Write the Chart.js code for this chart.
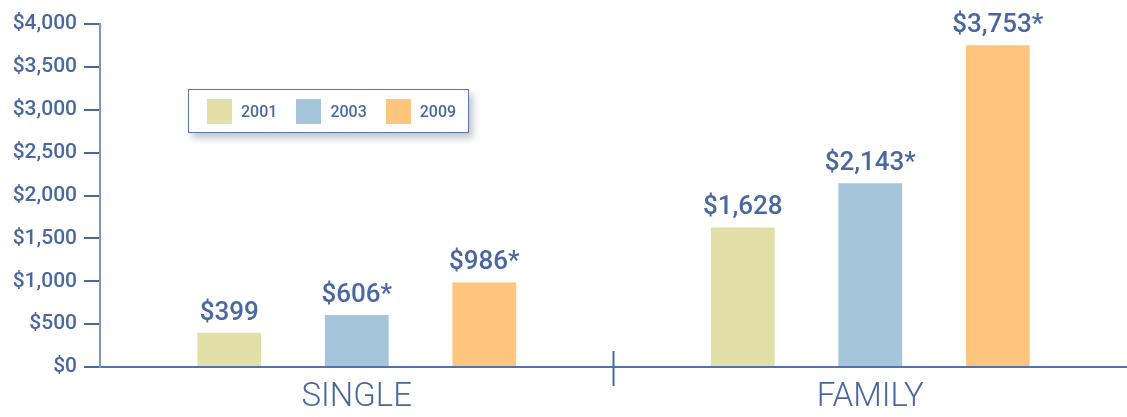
<!DOCTYPE html>
<html>
<head>
<meta charset="utf-8">
<script src="https://cdn.jsdelivr.net/npm/chart.js@4/dist/chart.umd.min.js"></script>
<style>
  html, body { margin: 0; padding: 0; background: #fff; overflow: hidden; }
  .wrap { position: relative; width: 1127px; height: 417px; }
  .legend {
    position: absolute; left: 188px; top: 89px; width: 281px; height: 44px;
    box-sizing: border-box; border: 1.5px solid #5a78aa; background: #fff;
    box-shadow: 4px 5px 7px rgba(80, 90, 110, 0.35);
    display: flex; align-items: center; padding-left: 18px;
    font-family: Roboto, sans-serif; font-weight: 500; font-size: 16px; color: #4a68a0;
  }
  .legend .item { display: flex; align-items: center; margin-right: 19px; }
  .legend .swatch { width: 25px; height: 25px; margin-right: 9px; }
</style>
</head>
<body>
<div class="wrap">
  <canvas id="chart" width="1127" height="417"></canvas>
  <div class="legend" id="legend"></div>
</div>
<script>
const categories = ['SINGLE', 'FAMILY'];
const years = ['2001', '2003', '2009'];
const values2001 = [399, 1628];
const values2003 = [606, 2143];
const values2009 = [986, 3753];
const star2001 = [false, false];
const star2003 = [true, true];
const star2009 = [true, true];
const yTicks = [0, 500, 1000, 1500, 2000, 2500, 3000, 3500, 4000];

const colors = ['#e2e0a6', '#a5c5da', '#fec67c'];
const textColor = '#4a68a0';

const legendEl = document.getElementById('legend');
years.forEach((y, i) => {
  const item = document.createElement('div');
  item.className = 'item';
  item.innerHTML = '<div class="swatch" style="background:' + colors[i] + '"></div><span>' + y + '</span>';
  legendEl.appendChild(item);
});

const fmt = v => '$' + v.toLocaleString('en-US');

const valueLabels = {
  id: 'valueLabels',
  afterDatasetsDraw(chart) {
    const ctx = chart.ctx;
    ctx.save();
    ctx.font = '500 26px Roboto, sans-serif';
    ctx.fillStyle = textColor;
    ctx.textAlign = 'center';
    ctx.textBaseline = 'alphabetic';
    chart.data.datasets.forEach((ds, di) => {
      chart.getDatasetMeta(di).data.forEach((bar, i) => {
        const label = fmt(ds.data[i]) + (ds.stars[i] ? '*' : '');
        ctx.fillText(label, bar.x, bar.y - 13);
      });
    });
    ctx.restore();
  }
};

const divider = {
  id: 'divider',
  afterDraw(chart) {
    const x = chart.scales.x;
    const ctx = chart.ctx;
    const mid = (x.getPixelForValue(0) + x.getPixelForValue(1)) / 2;
    ctx.save();
    ctx.strokeStyle = '#4a68a0';
    ctx.lineWidth = 2;
    ctx.beginPath();
    ctx.moveTo(mid, chart.chartArea.bottom - 16);
    ctx.lineTo(mid, chart.chartArea.bottom + 19);
    ctx.stroke();
    ctx.restore();
  }
};

new Chart(document.getElementById('chart').getContext('2d'), {
  type: 'bar',
  data: {
    labels: categories,
    datasets: [
      { label: years[0], data: values2001, stars: star2001, backgroundColor: colors[0] },
      { label: years[1], data: values2003, stars: star2003, backgroundColor: colors[1] },
      { label: years[2], data: values2009, stars: star2009, backgroundColor: colors[2] }
    ]
  },
  options: {
    responsive: false,
    animation: false,
    layout: { padding: { top: 24, bottom: 0, left: 0, right: 0 } },
    datasets: { bar: { categoryPercentage: 0.745, barPercentage: 0.5 } },
    plugins: { legend: { display: false }, tooltip: { enabled: false } },
    scales: {
      x: {
        afterFit(scale) { scale.height = 50; },
        grid: { display: false, drawTicks: false },
        border: { display: true, color: '#5573a8', width: 2 },
        ticks: {
          color: textColor,
          padding: 11,
          font: { family: 'Roboto, sans-serif', size: 33, weight: 300 }
        }
      },
      y: {
        min: 0,
        max: 4000,
        afterFit(scale) { scale.width = 100; },
        afterBuildTicks(scale) { scale.ticks = yTicks.map(v => ({ value: v })); },
        grid: { drawOnChartArea: false, tickLength: 16, color: '#4a68a0', lineWidth: 2 },
        border: { display: true, color: '#7d95c0', width: 2 },
        ticks: {
          color: textColor,
          padding: 7,
          font: { family: 'Roboto, sans-serif', size: 21, weight: 500 },
          callback: v => fmt(v)
        }
      }
    }
  },
  plugins: [valueLabels, divider]
});
</script>
</body>
</html>
